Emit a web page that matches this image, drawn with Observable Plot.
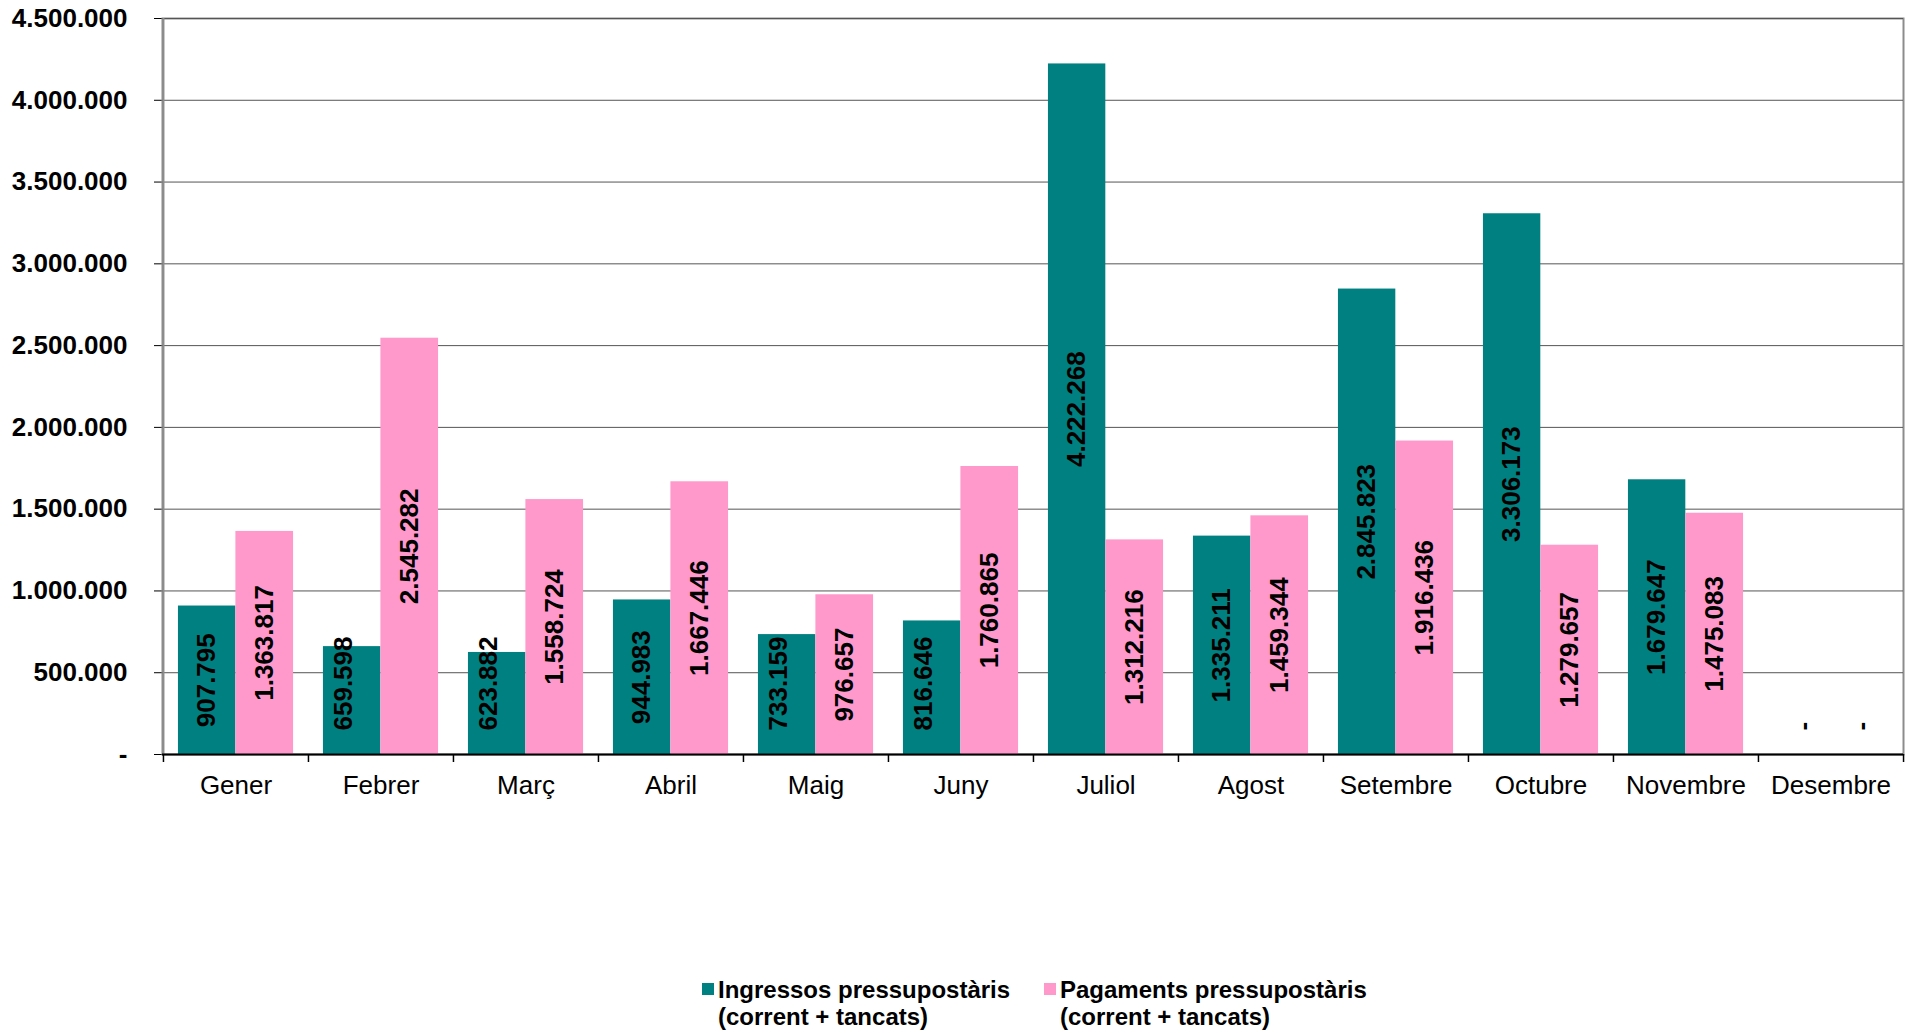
<!DOCTYPE html>
<html><head><meta charset="utf-8">
<script src="https://cdn.jsdelivr.net/npm/d3@7"></script>
<script src="https://cdn.jsdelivr.net/npm/@observablehq/plot@0.6"></script>
<style>
body{margin:0;background:#fff;font-family:"Liberation Sans",Arial,sans-serif;}
#chart{position:absolute;left:0;top:0;}
g[aria-label^="x-axis"] text{font-size:26px;fill:#000;font-family:"Liberation Sans",Arial,sans-serif;}
g[aria-label^="y-axis"] text{font-size:26px;font-weight:bold;fill:#000;font-family:"Liberation Sans",Arial,sans-serif;}
.legend{position:absolute;top:976px;font-weight:bold;font-size:24px;line-height:27px;color:#000;}
.sw{position:absolute;width:12px;height:12px;top:7px;left:0;}
.lt{margin-left:16px;white-space:nowrap;}
</style></head><body>
<div id="chart"></div>
<div id="legend"></div>
<script>
const months = ["Gener","Febrer","Març","Abril","Maig","Juny","Juliol","Agost","Setembre","Octubre","Novembre","Desembre"];
const ingressos = [907795, 659598, 623882, 944983, 733159, 816646, 4222268, 1335211, 2845823, 3306173, 1679647, 0];
const pagaments = [1363817, 2545282, 1558724, 1667446, 976657, 1760865, 1312216, 1459344, 1916436, 1279657, 1475083, 0];
const seriesNames = ["Ingressos pressupostàris", "Pagaments pressupostàris"];
const seriesSub = ["(corrent + tancats)", "(corrent + tancats)"];
const seriesColors = ["#008080", "#FF99CC"];
const yTicks = [0, 500000, 1000000, 1500000, 2000000, 2500000, 3000000, 3500000, 4000000, 4500000];

const W = 1915, H = 830, mL = 162, mR = 12, mT = 18, mB = 76;
const step = (W - mL - mR) / months.length;
const plotH = H - mT - mB;
const yMax = 4500000;
const pxPerUnit = plotH / yMax;
const fontSize = 26;

const locale = d3.formatLocale({decimal: ",", thousands: ".", grouping: [3], currency: ["", "€"]});
const f = locale.format(",d");
const fmt = v => v === 0 ? "-" : f(v);

const rows = [];
months.forEach((m, i) => {
  rows.push({month: m, series: 0, value: ingressos[i]});
  rows.push({month: m, series: 1, value: pagaments[i]});
});
const textLen = s => {let w = 0; for (const c of s) w += c === "." ? 0.278 : c === "-" ? 0.333 : 0.556; return w * fontSize;};
const pad = 24;
rows.forEach(d => {
  const s = fmt(d.value);
  d.label = s;
  d.centered = (d.value * pxPerUnit) / 2 - textLen(s) / 2 >= pad;
});

const outer = 0.103, barW = 0.396;
const labelDx = (outer + barW / 2 - 0.5) * step;

function barsFor(k) {
  return Plot.barY(rows.filter(d => d.series === k), {
    x: "month", y: "value", fill: seriesColors[k],
    insetLeft: k === 0 ? outer * step : (outer + barW) * step,
    insetRight: k === 0 ? (1 - outer - barW) * step : outer * step
  });
}
function labelsFor(k) {
  const dx = k === 0 ? labelDx : -labelDx;
  const common = {x: "month", text: "label", rotate: -90, fontSize, fontWeight: "bold", fill: "#000", fontFamily: "Liberation Sans, Arial, sans-serif"};
  return [
    Plot.text(rows.filter(d => d.series === k && d.centered), {
      ...common, y: d => d.value / 2, dx
    }),
    Plot.text(rows.filter(d => d.series === k && !d.centered && d.value !== 0), {
      ...common, frameAnchor: "bottom", dx, dy: -pad, textAnchor: "start"
    }),
    Plot.text(rows.filter(d => d.series === k && d.value === 0), {
      ...common, frameAnchor: "bottom", dx: dx + 10, dy: -pad, textAnchor: "start"
    })
  ];
}

const chart = Plot.plot({
  width: W, height: H,
  marginLeft: mL, marginRight: mR, marginTop: mT, marginBottom: mB,
  style: {fontFamily: "Liberation Sans, Arial, sans-serif", fontSize: "26px", background: "#fff", color: "#000", overflow: "visible"},
  x: {domain: months, padding: 0, tickSize: 0, tickPadding: 21, label: null},
  y: {domain: [0, yMax], ticks: yTicks, tickFormat: fmt, tickSize: 8, tickPadding: 27, label: null},
  marks: [
    Plot.frame({stroke: "#8c8c8c", strokeWidth: 2}),
    Plot.ruleY(yTicks.filter(v => v > 0), {y: d => d, stroke: "#555", strokeWidth: 1}),
    barsFor(0), barsFor(1),
    Plot.ruleX([months[0]], {x: d => d, dx: -step / 2, stroke: "#8c8c8c", strokeWidth: 2}),
    Plot.ruleY([0], {y: d => d, stroke: "#000", strokeWidth: 2}),
    Plot.ruleX(months, {x: d => d, dx: -step / 2, insetTop: plotH, insetBottom: -8, stroke: "#000", strokeWidth: 1.5}),
    Plot.ruleX([months[months.length - 1]], {x: d => d, dx: step / 2, insetTop: plotH, insetBottom: -8, stroke: "#000", strokeWidth: 1.5}),
    ...labelsFor(0), ...labelsFor(1)
  ]
});
document.getElementById("chart").appendChild(chart);

const legendLeft = [702, 1044];
const lg = document.getElementById("legend");
seriesNames.forEach((name, k) => {
  const item = document.createElement("div");
  item.className = "legend";
  item.style.left = legendLeft[k] + "px";
  item.innerHTML = `<span class="sw" style="background:${seriesColors[k]}"></span><div class="lt">${name}<br>${seriesSub[k]}</div>`;
  lg.appendChild(item);
});
</script>
</body></html>
